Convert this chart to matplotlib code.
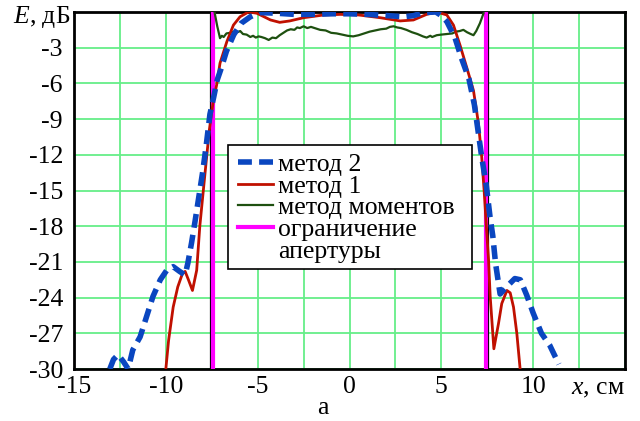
import matplotlib
matplotlib.use("Agg")
import matplotlib.pyplot as plt
from matplotlib.patches import Rectangle
from matplotlib.lines import Line2D

plt.rcParams['font.family'] = ['Liberation Serif', 'DejaVu Serif']
plt.rcParams['mathtext.fontset'] = 'custom'
plt.rcParams['mathtext.it'] = 'Liberation Serif:italic'
plt.rcParams['mathtext.rm'] = 'Liberation Serif'

# ---- data ----
m2_x = [-13.05, -12.85, -12.6, -12.3, -12.05, -11.8, -11.4, -11.05, -10.7, -10.3,
        -9.95, -9.6, -9.25, -8.95, -8.8, -8.6, -8.4, -8.2, -8.0, -7.8, -7.6, -7.4,
        -7.2, -7.0, -6.7, -6.3, -5.9, -5.4, -4.9, -4.0, -3.0, -2.0, -1.0, 0.0, 1.0,
        2.0, 3.0, 3.5, 4.0, 4.7, 5.0, 5.3, 5.75, 6.1, 6.5, 6.8, 7.0, 7.2, 7.45,
        7.65, 7.8, 7.95, 8.2, 8.55, 9.0, 9.3, 9.65, 10.0, 10.45, 10.9, 11.4]
m2_y = [-30.0, -29.2, -28.8, -29.4, -30.0, -28.4, -27.3, -25.6, -23.9, -22.5,
        -21.7, -21.4, -21.8, -22.1, -21.1, -19.4, -17.5, -15.5, -13.5, -11.2, -8.6, -7.2,
        -5.7, -4.8, -3.3, -1.9, -0.95, -0.4, -0.05, -0.1, -0.2, -0.2, -0.15, -0.15, -0.2,
        -0.3, -0.4, -0.3, -0.05, 0.0, -0.3, -0.8, -2.2, -3.9, -5.6, -7.8, -10.0, -12.2, -14.6,
        -17.2, -18.8, -21.1, -23.7, -23.1, -22.4, -22.5, -23.8, -25.3, -27.0, -28.0, -29.6]

m1_x = [-10.0, -9.85, -9.6, -9.35, -9.1, -8.95, -8.77, -8.55, -8.32, -8.15, -7.87,
        -7.63, -7.41, -7.23, -7.05, -6.68, -6.32, -5.96, -5.5, -5.05, -4.3, -3.8, -3.25,
        -2.5, -1.4, -0.5, 0.5, 1.67, 2.76, 3.48, 4.2, 4.75, 5.3, 5.66, 6.02, 6.39, 6.75,
        7.02, 7.2, 7.33, 7.45, 7.57, 7.66, 7.86, 8.11, 8.29, 8.57, 8.75, 8.93, 9.11, 9.29]
m1_y = [-30.0, -27.6, -24.8, -23.1, -22.0, -21.8, -22.5, -23.4, -21.7, -18.0, -13.6,
        -9.9, -7.4, -6.1, -4.3, -2.5, -1.1, -0.4, 0.0, -0.1, -0.67, -0.87, -0.75,
        -0.48, -0.25, -0.2, -0.25, -0.48, -0.75, -0.67, -0.2, 0.0, -0.25, -1.1, -2.8, -4.7, -6.6,
        -9.35, -12.2, -15.0, -18.0, -20.8, -23.9, -28.3, -26.2, -24.5, -23.4, -23.6, -24.8, -27.0, -30.0]

mom_x = [-7.35, -7.2, -7.05, -6.95, -6.85, -6.7, -6.5, -6.3, -6.1, -5.95, -5.8, -5.6,
         -5.4, -5.25, -5.1, -4.95, -4.8, -4.6, -4.4, -4.2, -4.0, -3.8, -3.6, -3.4, -3.2,
         -3.0, -2.85, -2.7, -2.5, -2.3, -2.1, -1.9, -1.6, -1.3, -1.0, -0.7, -0.4, -0.1,
         0.2, 0.5, 0.8, 1.1, 1.4, 1.7, 2.0, 2.2, 2.4, 2.6, 2.8, 3.1, 3.4, 3.7, 4.0, 4.2,
         4.4, 4.5, 4.75, 5.0, 5.3, 5.6, 5.8, 6.0, 6.2, 6.4, 6.6, 6.75, 6.9, 7.1, 7.3]
mom_y = [0.0, -1.2, -2.2, -2.0, -2.1, -1.8, -1.75, -1.65, -1.7, -1.6, -1.85, -1.9,
         -2.1, -2.0, -2.15, -2.05, -2.1, -2.2, -2.35, -2.15, -2.2, -1.95, -1.75, -1.55, -1.45,
         -1.5, -1.3, -1.35, -1.2, -1.35, -1.25, -1.35, -1.5, -1.55, -1.75, -1.8, -1.9, -2.0,
         -2.05, -1.95, -1.8, -1.65, -1.55, -1.45, -1.4, -1.25, -1.2, -1.3, -1.35, -1.5, -1.7, -1.85, -2.05, -2.15,
         -2.0, -2.1, -1.95, -1.9, -1.85, -1.8, -1.65, -1.6, -1.5, -1.7, -1.85, -1.95, -1.6, -0.95, -0.1]

aperture_x = [-7.42, 7.42]
aperture_edge_x = [-7.53, 7.53]

x_ticks = [-15, -10, -5, 0, 5, 10]
y_ticks = [-30, -27, -24, -21, -18, -15, -12, -9, -6, -3]

labels = ['метод 2', 'метод 1', 'метод моментов', 'ограничение', 'апертуры']

FS = 18.5

# ---- figure ----
fig = plt.figure(figsize=(6.4, 4.21), dpi=100)
ax = fig.add_axes([74/640, 1-369/421, (625-74)/640, (369-12)/421])

ax.set_xlim(-15, 15)
ax.set_ylim(-30, 0)
ax.grid(True, color='#66EE88', linewidth=1.3, zorder=0)
ax.set_axisbelow(True)

grid_x = [-15 + 2.5*i for i in range(13)]
ax.set_xticks(grid_x)
ax.set_xticklabels([str(int(v)) if (v in x_ticks) else '' for v in grid_x])
ax.set_yticks(y_ticks + [0])
ax.set_yticklabels([str(v) for v in y_ticks] + [''])
ax.tick_params(length=0, labelsize=FS)
ax.tick_params(axis='x', pad=5)
ax.tick_params(axis='y', pad=8)

for s in ax.spines.values():
    s.set_linewidth(2)
    s.set_color('black')

for xe in aperture_edge_x:
    ax.axvline(xe, color='black', linewidth=1.6, zorder=3)
l4 = None
for xa in aperture_x:
    l4 = ax.axvline(xa, color='#FF00FF', linewidth=3, zorder=3)

l3, = ax.plot(mom_x, mom_y, color='#1E5010', linewidth=1.6, zorder=4)
l2, = ax.plot(m1_x, m1_y, color='#C01000', linewidth=2, zorder=5)
l1, = ax.plot(m2_x, m2_y, color='#0A46C0', linewidth=4, dashes=(2.5, 1.3), zorder=6)
blank = Line2D([], [], color='none')

# legend box
box = Rectangle((228/640, 1-269/421), 244/640, 124/421, transform=fig.transFigure,
                facecolor='white', edgecolor='black', linewidth=1.2, zorder=10,
                clip_on=False)
ax.add_patch(box)

leg = ax.legend([l1, l2, l3, l4, blank], labels, loc='upper left',
                bbox_to_anchor=(238/640, 1-153/421), bbox_transform=fig.transFigure,
                fontsize=FS, frameon=False, labelspacing=-0.05, handlelength=1.36,
                handletextpad=0.2, borderpad=0, borderaxespad=0)
leg.set_zorder(11)

fig.text(70/640, 1-17/421, '$E$, дБ', ha='right', va='center', fontsize=FS)
fig.text(625/640, 1-389/421, '$x$, см', ha='right', va='center', fontsize=FS)
fig.text(323/640, 1-408/421, 'а', ha='center', va='center', fontsize=FS)

fig.savefig('out.png', dpi=100)
